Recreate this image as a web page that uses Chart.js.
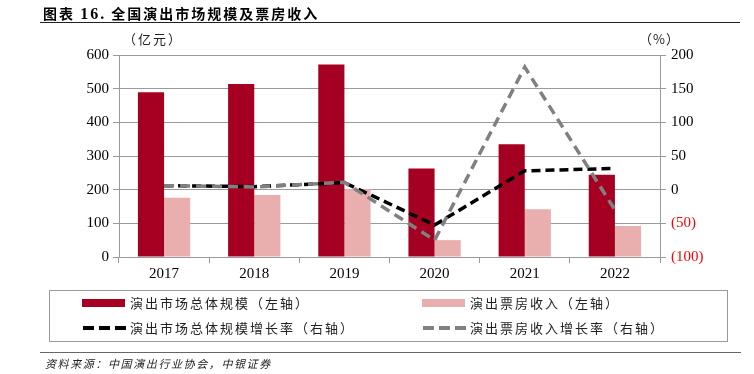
<!DOCTYPE html>
<html>
<head>
<meta charset="utf-8">
<script src="https://cdn.jsdelivr.net/npm/chart.js@4.4.1/dist/chart.umd.min.js"></script>
<style>
body{margin:0;background:#fff;}
#wrap{position:relative;width:754px;height:374px;overflow:hidden;font-family:"Noto Sans CJK SC",sans-serif;}
#c{position:absolute;left:0;top:0;}
.t{position:absolute;white-space:nowrap;color:#000;}
#title{left:43px;top:3px;font-size:14px;font-weight:bold;letter-spacing:2px;}
#title .n{font-family:"Liberation Serif",serif;font-size:16px;}
#hr1{position:absolute;left:40px;top:22px;width:700px;height:0;border-top:1.5px solid #222;}
#unitL{left:123px;top:29px;font-size:13px;letter-spacing:2px;color:#222;}
#unitR{left:639px;top:29px;font-size:13px;letter-spacing:1px;color:#222;}
#legend{position:absolute;left:49px;top:290px;width:677px;height:50px;border:1px solid #999;}
.li{position:absolute;font-size:13px;letter-spacing:2px;color:#222;height:18px;line-height:18px;}
.sw{position:absolute;left:-48px;top:5px;width:43px;height:8px;}
#hr2{position:absolute;left:40px;top:352px;width:701px;height:0;border-top:1px solid #666;}
#src{left:45px;top:355px;font-size:11px;letter-spacing:1.6px;font-style:italic;color:#222;}
</style>
</head>
<body>
<div id="wrap">
<canvas id="c" width="754" height="374"></canvas>
<div class="t" id="title">图表 <span class="n">16.</span> 全国演出市场规模及票房收入</div>
<div id="hr1"></div>
<div class="t" id="unitL">（亿元）</div>
<div class="t" id="unitR">（%）</div>
<div id="legend"></div>
<div id="hr2"></div>
<div class="t" id="src">资料来源：中国演出行业协会，中银证券</div>
</div>
<script>
// data
const years=['2017','2018','2019','2020','2021','2022']
const marketSize=[489,514,572,263,335,244]      // 亿元, left axis
const boxOffice=[176,184,201,50,142,92]          // 亿元, left axis
const marketGrowth=[6,4.5,10.5,-52.5,28,31.5]    // %, right axis
const boxGrowth=[6,4,11,-75,182,-30]             // %, right axis
const seriesNames=['演出市场总体规模（左轴）','演出票房收入（左轴）','演出市场总体规模增长率（右轴）','演出票房收入增长率（右轴）']

const darkRed='#a50021'
const pink='#e8afae'
const gridCol='#9a9a9a'
const tickFont={family:'"Liberation Serif", serif',size:15}

const chart=new Chart(document.getElementById('c'),{
type:'bar',
data:{
labels:years,
datasets:[
{label:seriesNames[0],data:marketSize,backgroundColor:darkRed,yAxisID:'y',order:2,categoryPercentage:0.58,barPercentage:1},
{label:seriesNames[1],data:boxOffice,backgroundColor:pink,yAxisID:'y',order:2,categoryPercentage:0.58,barPercentage:1},
{type:'line',label:seriesNames[2],data:marketGrowth,borderColor:'#000',borderWidth:3.5,borderDash:[9,5],pointRadius:0,fill:false,tension:0,yAxisID:'y1',order:1},
{type:'line',label:seriesNames[3],data:boxGrowth,borderColor:'#808080',borderWidth:3.5,borderDash:[10,6],pointRadius:0,fill:false,tension:0,yAxisID:'y1',order:0}
]
},
options:{
responsive:false,
animation:false,
layout:{padding:{top:55,left:0,right:0,bottom:0}},
plugins:{legend:{display:false},tooltip:{enabled:false}},
scales:{
x:{
offset:true,
grid:{display:true,drawOnChartArea:false,drawTicks:true,tickLength:6,color:gridCol,offset:true},
border:{display:true,color:gridCol},
ticks:{color:'#000',font:tickFont,padding:2},
afterFit:(s)=>{s.height=117}
},
y:{
position:'left',min:0,max:600,
grid:{color:gridCol,tickLength:6},
border:{display:true,color:gridCol},
ticks:{stepSize:100,color:'#000',font:tickFont,padding:4},
afterFit:(s)=>{s.width=119}
},
y1:{
position:'right',min:-100,max:200,
grid:{drawOnChartArea:false,color:gridCol,tickLength:6},
border:{display:true,color:gridCol},
ticks:{stepSize:50,font:tickFont,padding:5,
color:(ctx)=>ctx.tick.value<0?'#ff0000':'#000',
callback:(v)=>v<0?'('+(-v)+')':v},
afterFit:(s)=>{s.width=94}
}
}
}
})

// html legend in a box, two columns (x = text start on page, y = row top inside box)
const lg=document.getElementById('legend')
const pos=[[130,3],[470,3],[130,28],[470,28]]
chart.data.datasets.forEach((ds,i)=>{
const item=document.createElement('div')
item.className='li'
item.style.left=(pos[i][0]-50)+'px'
item.style.top=pos[i][1]+'px'
let sw
if(ds.type==='line'){
sw=document.createElement('canvas')
sw.width=44;sw.height=18
sw.style.cssText='position:absolute;left:-48px;top:0px;'
const g=sw.getContext('2d')
g.strokeStyle=ds.borderColor;g.lineWidth=4;g.setLineDash([11,5])
g.beginPath();g.moveTo(1,9);g.lineTo(44,9);g.stroke()
}else{
sw=document.createElement('div')
sw.className='sw'
sw.style.background=ds.backgroundColor
}
item.appendChild(sw)
item.appendChild(document.createTextNode(ds.label))
lg.appendChild(item)
})
</script>
</body>
</html>
